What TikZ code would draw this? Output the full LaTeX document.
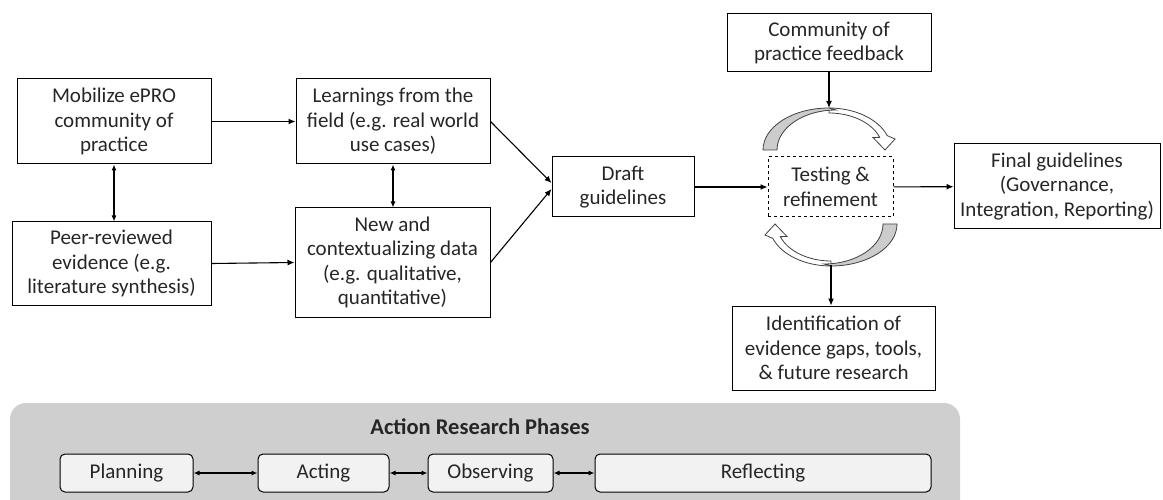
\documentclass[tikz,border=0pt]{standalone}
\usepackage{fontspec}
\setmainfont{Carlito}
\usetikzlibrary{arrows.meta}

% curved feedback arrow round the testing box
\tikzset{pics/turn/.style={code={
  \draw[loopline, fill=white] (0pt,42pt) arc[start angle=90, end angle=20, x radius=62pt, y radius=42pt]
    -- (66pt,11pt) -- (56pt,0pt) -- (44pt,12.5pt) -- (50.7pt,12.65pt)
    arc[start angle=20, end angle=90, x radius=54pt, y radius=37pt] -- cycle;
  \draw[loopline, fill=black!20] (-66pt,0pt) arc[start angle=180, end angle=90, x radius=66pt, y radius=42pt]
    -- (7pt,40pt) arc[start angle=90, end angle=180, x radius=59pt, y radius=40pt] -- cycle;
}}}

\begin{document}
\begin{tikzpicture}[x=1pt, y=-1pt,
  box/.style={draw, line width=1pt, align=center, inner sep=2pt, text=black!85,
    font=\fontsize{21}{24.5}\selectfont},
  phase/.style={box, rounded corners=5pt, fill=black!5, minimum height=38},
  link/.style={line width=1.1pt, -{Latex[length=7pt,width=6pt]}},
  both/.style={line width=1.1pt, {Latex[length=6pt,width=5pt]}-{Latex[length=6pt,width=5pt]}},
  loopline/.style={draw=black!75, line width=0.8pt}]

\useasboundingbox (0,0) rectangle (1163,500);

%phases panel
\begin{scope}
\clip (0,0) rectangle (1163,500);
\fill[black!19, rounded corners=16pt] (10,403) rectangle (960,530);
\end{scope}

%boxes
\node[box, minimum width=194, minimum height=85] (mob) at (114,121.5) {Mobilize ePRO\\community of\\practice};
\node[box, minimum width=199, minimum height=83] (peer) at (111.5,263.5) {Peer-reviewed\\evidence (e.g.\\literature synthesis)};
\node[box, minimum width=194, minimum height=85] (learn) at (393,121.5) {Learnings from the\\field (e.g. real world\\use cases)};
\node[box, minimum width=195, minimum height=109] (newdata) at (392.5,262.5) {New and\\contextualizing data\\(e.g. qualitative,\\quantitative)};
\node[box, minimum width=142, minimum height=60] (draft) at (623,187) {Draft\\guidelines};
\node[box, dashed, minimum width=125, minimum height=60] (test) at (830.5,187) {Testing \&\\refinement};
\node[box, minimum width=204, minimum height=58] (comm) at (829,43) {Community of\\practice feedback};
\node[box, minimum width=203, minimum height=84] (ident) at (833.5,348) {Identification of\\evidence gaps, tools,\\\& future research};
\node[box, minimum width=206, minimum height=85] (final) at (1057,186.5) {Final guidelines\\(Governance,\\Integration, Reporting)};

%feedback loop
\pic at (829,150) {turn};
\pic[rotate=180] at (831,224) {turn};
\coordinate (top) at (829,108);
\coordinate (bot) at (831,265);

%connectors
\draw[link] (mob) -- (learn);
\draw[link] (peer.east) -- (newdata.west);
\draw[both] (mob.south) -- (mob.south |- peer.north);
\draw[both] (learn.south) -- (learn.south |- newdata.north);
\draw[link] (learn.east) -- ([yshift=4pt]draft.west);
\draw[link] (newdata.east) -- ([yshift=-2pt]draft.west);
\draw[link] (draft) -- (test);
\draw[link] (test) -- (final);
\draw[link] (comm) -- (top);
\draw[link] (bot) -- (bot |- ident.north);

%phases
\node[box, draw=none, font=\fontsize{22.5}{26}\selectfont\bfseries] (title) at (480,427) {Action Research Phases};
\node[phase, minimum width=133] (plan) at (126.5,473) {Planning};
\node[phase, minimum width=131] (act) at (323.5,473) {Acting};
\node[phase, minimum width=125] (obs) at (490.5,473) {Observing};
\node[phase, minimum width=336] (refl) at (763,473) {Reflecting};
\draw[both] (plan) -- (act);
\draw[both] (act) -- (obs);
\draw[both] (obs) -- (refl);

\end{tikzpicture}
\end{document}
